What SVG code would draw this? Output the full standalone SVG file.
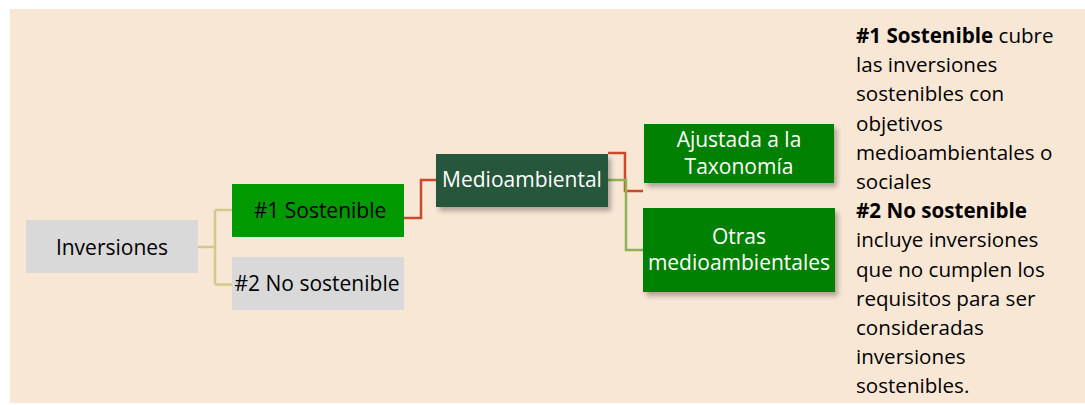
<svg xmlns="http://www.w3.org/2000/svg" width="1085" height="405" viewBox="0 0 1085 405">
<style>
.t{font-family:"Open Sans","Liberation Sans",sans-serif;font-size:21px;text-anchor:middle}
.dk{fill:#000}
.wh{fill:#fff}
.note{font-family:"Open Sans","Liberation Sans",sans-serif;font-size:20.6px;fill:#000}
.c{fill:none;stroke-width:2.5}
.cy{stroke:#d2c98a}
.cr{stroke:#cc4a2a}
.cg{stroke:#8db354}
</style>
<defs>
<filter id="sh" x="-10%" y="-20%" width="130%" height="160%">
<feGaussianBlur in="SourceAlpha" stdDeviation="2.5"/>
<feOffset dx="3" dy="4" result="b"/>
<feComponentTransfer><feFuncA type="linear" slope="0.3"/></feComponentTransfer>
<feMerge><feMergeNode/><feMergeNode in="SourceGraphic"/></feMerge>
</filter>
</defs>
<rect x="10" y="9" width="1075" height="394" fill="#f9e7d6"/>
<g id="connectors">
<path class="c cy" d="M198 247H215M215 210V284.5M215 210H232M215 284.5H232"/>
<path class="c cr" d="M404 218H421V180H436"/>
<path class="c cr" d="M608 153H625V191H643"/>
<path class="c cg" d="M608 180H626V250H643"/>
</g>
<g id="inversiones">
<rect x="26" y="220" width="172" height="53" fill="#d9d9d9"/>
<text class="t dk" x="112" y="255">Inversiones</text>
</g>
<g id="sostenible">
<rect x="232" y="184" width="172" height="53" fill="#009900"/>
<text class="t dk" x="320" y="218">#1 Sostenible</text>
</g>
<g id="nosostenible">
<rect x="232" y="257" width="172" height="53" fill="#d9d9d9"/>
<text class="t dk" x="317" y="290.5">#2 No sostenible</text>
</g>
<g id="medioambiental">
<rect x="436" y="154" width="172" height="53" fill="#25573a" filter="url(#sh)"/>
<text class="t wh" x="522" y="187">Medioambiental</text>
</g>
<g id="ajustada">
<rect x="644" y="124" width="190" height="59" fill="#008000" filter="url(#sh)"/>
<text class="t wh" x="739" y="146.5">Ajustada a la</text>
<text class="t wh" x="739" y="173.5">Taxonomía</text>
</g>
<g id="otras">
<rect x="643" y="208" width="192" height="84" fill="#008000" filter="url(#sh)"/>
<text class="t wh" x="739" y="243.5">Otras</text>
<text class="t wh" x="739" y="270">medioambientales</text>
</g>
<g id="nota">
<text class="note" x="856" y="43"><tspan font-weight="bold">#1 Sostenible</tspan> cubre</text>
<text class="note" x="856" y="72.2">las inversiones</text>
<text class="note" x="856" y="101.4">sostenibles con</text>
<text class="note" x="856" y="130.6">objetivos</text>
<text class="note" x="856" y="159.8">medioambientales o</text>
<text class="note" x="856" y="189">sociales</text>
<text class="note" x="856" y="218.2" font-weight="bold">#2 No sostenible</text>
<text class="note" x="856" y="247.4">incluye inversiones</text>
<text class="note" x="856" y="276.6">que no cumplen los</text>
<text class="note" x="856" y="305.8">requisitos para ser</text>
<text class="note" x="856" y="335">consideradas</text>
<text class="note" x="856" y="364.2">inversiones</text>
<text class="note" x="856" y="393.4">sostenibles.</text>
</g>
</svg>
